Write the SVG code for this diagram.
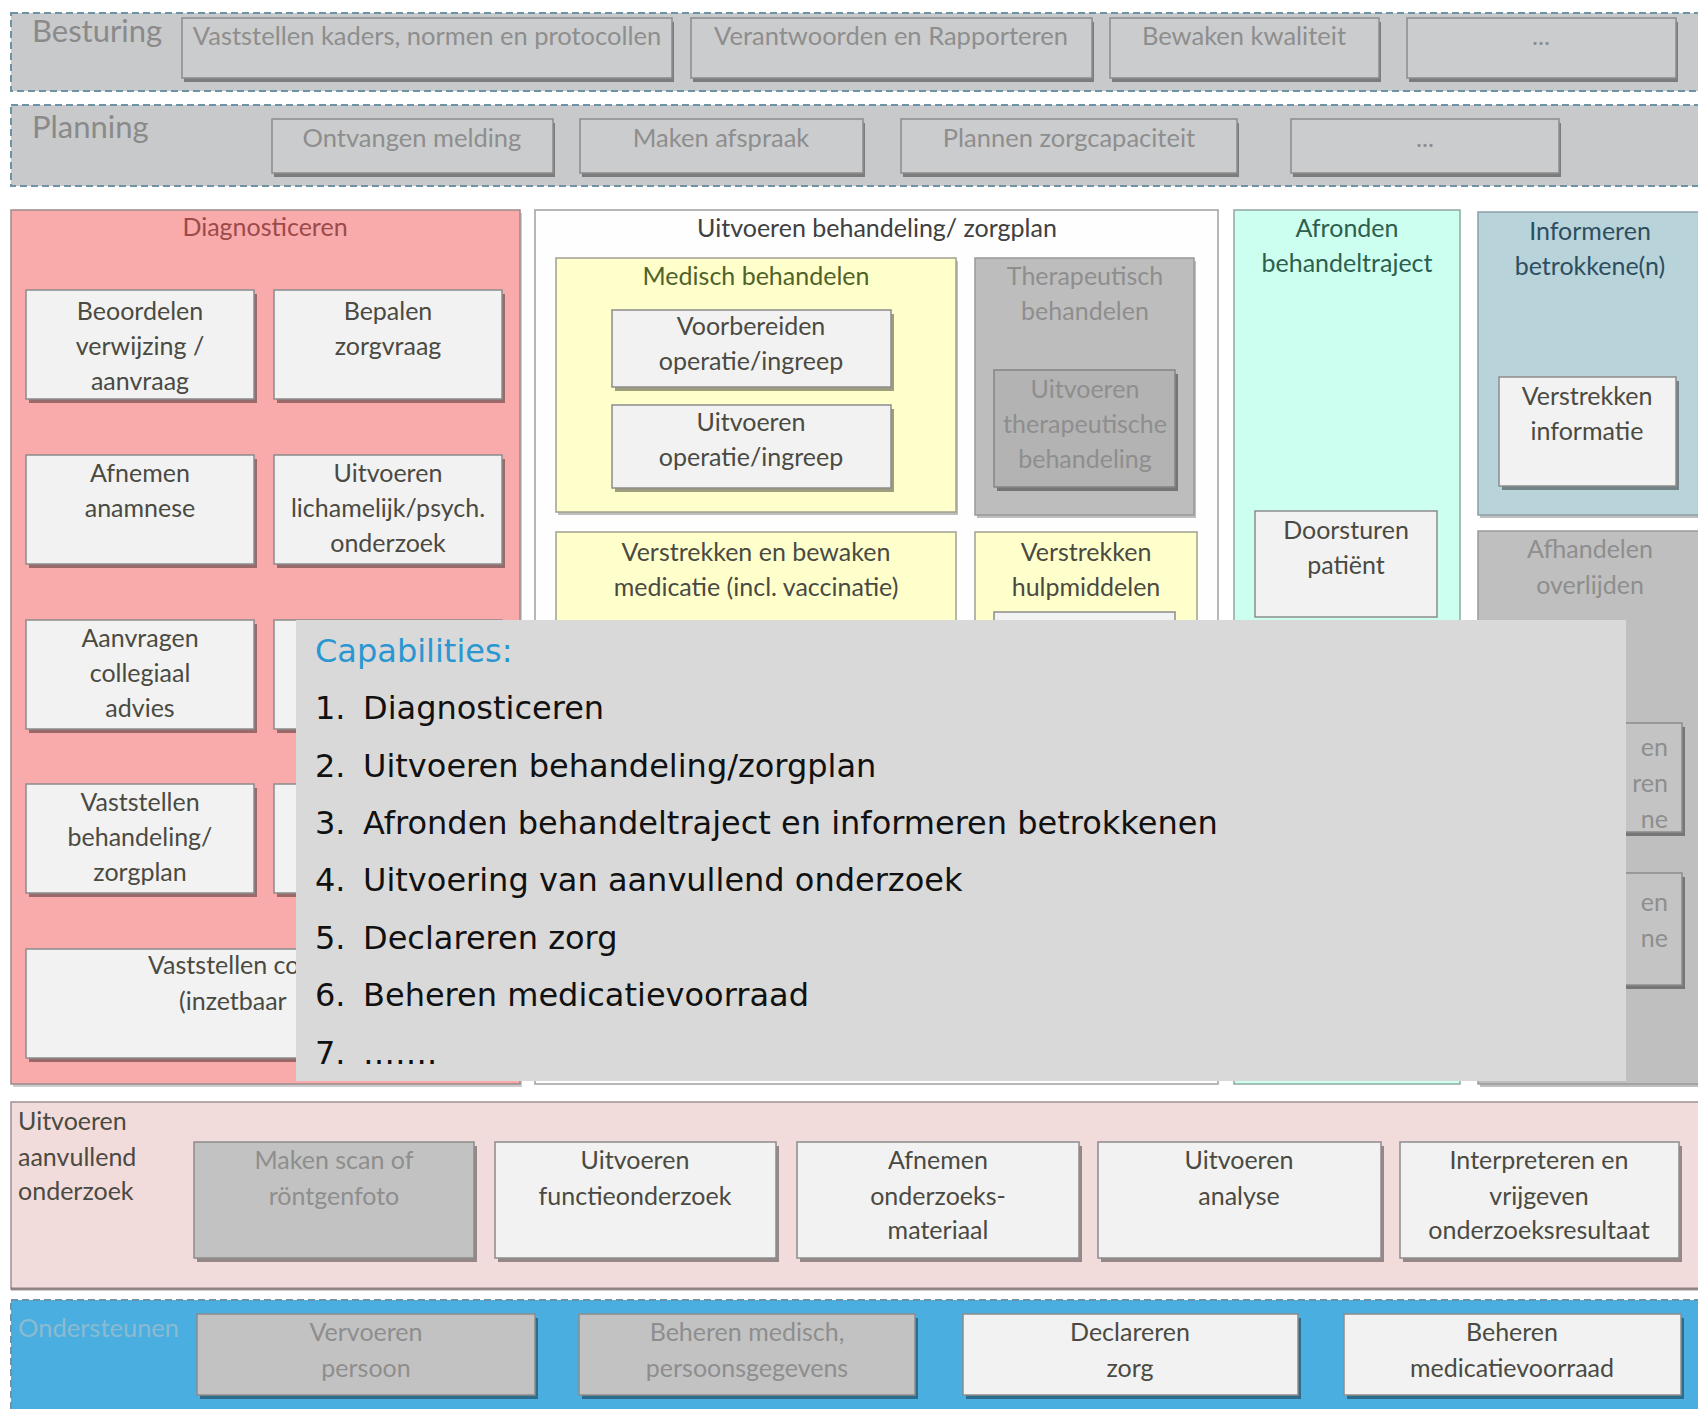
<svg xmlns="http://www.w3.org/2000/svg" width="1698" height="1409" viewBox="0 0 1698 1409">
<style>
text{font-family:Lato,"Liberation Sans",sans-serif;}
.t{font-size:25px;fill:#4a4a42;text-anchor:middle}
.f{font-size:25px;fill:#8e8e8e;text-anchor:middle}
.fs{font-size:25.5px;fill:#8e8e8e;text-anchor:middle}
.lbl{font-size:31px;fill:#8a8a8a}
.box{fill:#f2f2f2;stroke:#8c8c8c;stroke-width:1.5}
.gbox{fill:#c2c2c2;stroke:#8c8c8c;stroke-width:1.5}
.bbox{fill:#cbcccd;stroke:#8c8c8c;stroke-width:1.5}
.sh{fill:#000;opacity:0.38}
.dash{fill:none;stroke:#6f93a6;stroke-width:2;stroke-dasharray:7 4}
.cap{font-family:"DejaVu Sans",Verdana,sans-serif;font-size:32px;fill:#111}
</style>
<rect width="1698" height="1409" fill="#ffffff"/>

<!-- Besturing -->
<g id="besturing">
<rect x="11" y="13" width="1700" height="78" fill="#c8c9ca"/>
<rect class="dash" x="11" y="13" width="1700" height="78"/>
<text class="lbl" x="32" y="42">Besturing</text>
</g>
<g id="b-kaders"><rect class="sh" x="184" y="22" width="490" height="60"/><rect class="bbox" x="182" y="18" width="490" height="60"/><text class="fs" x="427" y="45">Vaststellen kaders, normen en protocollen</text></g>
<g id="b-verantwoorden"><rect class="sh" x="693" y="22" width="401" height="60"/><rect class="bbox" x="691" y="18" width="401" height="60"/><text class="fs" x="891" y="45">Verantwoorden en Rapporteren</text></g>
<g id="b-kwaliteit"><rect class="sh" x="1112" y="22" width="269" height="60"/><rect class="bbox" x="1110" y="18" width="269" height="60"/><text class="fs" x="1244" y="45">Bewaken kwaliteit</text></g>
<g id="b-more"><rect class="sh" x="1409" y="22" width="269" height="60"/><rect class="bbox" x="1407" y="18" width="269" height="60"/><text class="fs" x="1541" y="45">...</text></g>

<!-- Planning -->
<g id="planning">
<rect x="11" y="105" width="1700" height="81" fill="#c8c9ca"/>
<rect class="dash" x="11" y="105" width="1700" height="81"/>
<text class="lbl" x="32" y="138">Planning</text>
</g>
<g id="p-melding"><rect class="sh" x="274" y="123" width="281" height="54"/><rect class="bbox" x="272" y="119" width="281" height="54"/><text class="fs" x="412" y="147">Ontvangen melding</text></g>
<g id="p-afspraak"><rect class="sh" x="582" y="123" width="283" height="54"/><rect class="bbox" x="580" y="119" width="283" height="54"/><text class="fs" x="721" y="147">Maken afspraak</text></g>
<g id="p-capaciteit"><rect class="sh" x="903" y="123" width="336" height="54"/><rect class="bbox" x="901" y="119" width="336" height="54"/><text class="fs" x="1069" y="147">Plannen zorgcapaciteit</text></g>
<g id="p-more"><rect class="sh" x="1293" y="123" width="268" height="54"/><rect class="bbox" x="1291" y="119" width="268" height="54"/><text class="fs" x="1425" y="147">...</text></g>

<!-- Diagnosticeren -->
<g id="diagnosticeren">
<rect x="13" y="213" width="509" height="874" fill="#000" opacity="0.2"/>
<rect x="11" y="210" width="509" height="874" fill="#f9aaaa" stroke="#9a8a8a" stroke-width="1.5"/>
<text x="265" y="236" font-size="25" fill="#9c4a4a" text-anchor="middle">Diagnosticeren</text>
</g>
<g id="d-beoordelen"><rect class="sh" x="29" y="294" width="228" height="109"/><rect class="box" x="26" y="290" width="228" height="109"/><text class="t" x="140" y="320">Beoordelen</text><text class="t" x="140" y="355">verwijzing /</text><text class="t" x="140" y="390">aanvraag</text></g>
<g id="d-zorgvraag"><rect class="sh" x="277" y="294" width="228" height="109"/><rect class="box" x="274" y="290" width="228" height="109"/><text class="t" x="388" y="320">Bepalen</text><text class="t" x="388" y="355">zorgvraag</text></g>
<g id="d-anamnese"><rect class="sh" x="29" y="459" width="228" height="109"/><rect class="box" x="26" y="455" width="228" height="109"/><text class="t" x="140" y="482">Afnemen</text><text class="t" x="140" y="517">anamnese</text></g>
<g id="d-lichamelijk"><rect class="sh" x="277" y="459" width="228" height="109"/><rect class="box" x="274" y="455" width="228" height="109"/><text class="t" x="388" y="482">Uitvoeren</text><text class="t" x="388" y="517">lichamelijk/psych.</text><text class="t" x="388" y="552">onderzoek</text></g>
<g id="d-collegiaal"><rect class="sh" x="29" y="624" width="228" height="109"/><rect class="box" x="26" y="620" width="228" height="109"/><text class="t" x="140" y="647">Aanvragen</text><text class="t" x="140" y="682">collegiaal</text><text class="t" x="140" y="717">advies</text></g>
<g id="d-hidden1"><rect class="sh" x="277" y="624" width="228" height="109"/><rect class="box" x="274" y="620" width="228" height="109"/></g>
<g id="d-vaststellen"><rect class="sh" x="29" y="788" width="228" height="109"/><rect class="box" x="26" y="784" width="228" height="109"/><text class="t" x="140" y="811">Vaststellen</text><text class="t" x="140" y="846">behandeling/</text><text class="t" x="140" y="881">zorgplan</text></g>
<g id="d-hidden2"><rect class="sh" x="277" y="788" width="228" height="109"/><rect class="box" x="274" y="784" width="228" height="109"/></g>
<g id="d-wide"><rect class="sh" x="29" y="953" width="476" height="109"/><rect class="box" x="26" y="949" width="476" height="109"/><text class="t" x="148" y="974" style="text-anchor:start">Vaststellen co</text><text class="t" x="179" y="1010" style="text-anchor:start">(inzetbaar</text></g>

<!-- Uitvoeren behandeling -->
<g id="uitvoeren-behandeling">
<rect x="535" y="210" width="683" height="874" fill="#fefefe" stroke="#a0a0a0" stroke-width="1.5"/>
<text x="877" y="237" font-size="25" fill="#404040" text-anchor="middle">Uitvoeren behandeling/ zorgplan</text>
</g>
<g id="medisch">
<rect x="558" y="261" width="400" height="254" fill="#000" opacity="0.25"/>
<rect x="556" y="258" width="400" height="254" fill="#ffffcc" stroke="#a0a090" stroke-width="1.5"/>
<text x="756" y="285" font-size="25" fill="#4f6228" text-anchor="middle">Medisch behandelen</text>
</g>
<g id="m-voorbereiden"><rect class="sh" x="615" y="314" width="279" height="77"/><rect class="box" x="612" y="310" width="279" height="77"/><text class="t" x="751" y="335">Voorbereiden</text><text class="t" x="751" y="370">operatie/ingreep</text></g>
<g id="m-uitvoeren"><rect class="sh" x="615" y="409" width="279" height="83"/><rect class="box" x="612" y="405" width="279" height="83"/><text class="t" x="751" y="431">Uitvoeren</text><text class="t" x="751" y="466">operatie/ingreep</text></g>
<g id="therapeutisch">
<rect x="977" y="261" width="219" height="257" fill="#000" opacity="0.25"/>
<rect x="975" y="258" width="219" height="257" fill="#bdbdbd" stroke="#999999" stroke-width="1.5"/>
<text class="f" x="1085" y="285">Therapeutisch</text><text class="f" x="1085" y="320">behandelen</text>
</g>
<g id="t-uitvoeren"><rect class="sh" x="997" y="374" width="181" height="117"/><rect x="994" y="370" width="181" height="117" fill="#b3b3b3" stroke="#858585" stroke-width="1.5"/><text class="f" x="1085" y="398">Uitvoeren</text><text class="f" x="1085" y="433">therapeutische</text><text class="f" x="1085" y="468">behandeling</text></g>
<g id="medicatie">
<rect x="556" y="532" width="400" height="200" fill="#ffffcc" stroke="#a0a090" stroke-width="1.5"/>
<text class="t" x="756" y="561">Verstrekken en bewaken</text><text class="t" x="756" y="596">medicatie (incl. vaccinatie)</text>
</g>
<g id="hulpmiddelen">
<rect x="975" y="532" width="222" height="200" fill="#ffffcc" stroke="#a0a090" stroke-width="1.5"/>
<text class="t" x="1086" y="561">Verstrekken</text><text class="t" x="1086" y="596">hulpmiddelen</text>
<rect class="box" x="994" y="612" width="181" height="100"/>
</g>

<!-- Afronden -->
<g id="afronden">
<rect x="1234" y="210" width="226" height="874" fill="#ccfff0" stroke="#90a8a0" stroke-width="1.5"/>
<text x="1347" y="237" font-size="25" fill="#2e5e4e" text-anchor="middle">Afronden</text>
<text x="1347" y="272" font-size="25" fill="#2e5e4e" text-anchor="middle">behandeltraject</text>
</g>
<g id="doorsturen"><rect class="box" x="1255" y="511" width="182" height="106"/><text class="t" x="1346" y="539">Doorsturen</text><text class="t" x="1346" y="574">patiënt</text></g>

<!-- Informeren -->
<g id="informeren">
<rect x="1480" y="215" width="220" height="303" fill="#000" opacity="0.25"/>
<rect x="1478" y="212" width="222" height="303" fill="#b9d3da" stroke="#8aa0a8" stroke-width="1.5"/>
<text x="1590" y="240" font-size="25" fill="#2d4e5e" text-anchor="middle">Informeren</text>
<text x="1590" y="275" font-size="25" fill="#2d4e5e" text-anchor="middle">betrokkene(n)</text>
</g>
<g id="verstrekken-informatie"><rect class="sh" x="1502" y="381" width="177" height="109"/><rect class="box" x="1499" y="377" width="177" height="109"/><text class="t" x="1587" y="405">Verstrekken</text><text class="t" x="1587" y="440">informatie</text></g>

<!-- Afhandelen overlijden -->
<g id="overlijden">
<rect x="1480" y="534" width="220" height="553" fill="#000" opacity="0.25"/>
<rect x="1478" y="531" width="222" height="553" fill="#bfbfbf" stroke="#9a9a9a" stroke-width="1.5"/>
<text class="f" x="1590" y="558">Afhandelen</text><text class="f" x="1590" y="594">overlijden</text>
</g>
<g id="o-box1"><rect class="sh" x="1503" y="727" width="182" height="109"/><rect x="1500" y="723" width="182" height="109" fill="#c4c4c4" stroke="#8c8c8c" stroke-width="1.5"/><text class="f" x="1668" y="756" style="text-anchor:end">en</text><text class="f" x="1668" y="792" style="text-anchor:end">ren</text><text class="f" x="1668" y="828" style="text-anchor:end">ne</text></g>
<g id="o-box2"><rect class="sh" x="1503" y="877" width="182" height="112"/><rect x="1500" y="873" width="182" height="112" fill="#c4c4c4" stroke="#8c8c8c" stroke-width="1.5"/><text class="f" x="1668" y="911" style="text-anchor:end">en</text><text class="f" x="1668" y="947" style="text-anchor:end">ne</text></g>

<!-- Uitvoeren aanvullend onderzoek -->
<g id="aanvullend">
<rect x="11" y="1102" width="1700" height="187" fill="#f2dcdb" stroke="#a09090" stroke-width="1.5"/>
<rect x="11" y="1287" width="1700" height="4" fill="#000" opacity="0.2"/>
<text font-size="25" fill="#4a4a42" x="18" y="1130">Uitvoeren</text>
<text font-size="25" fill="#4a4a42" x="18" y="1166">aanvullend</text>
<text font-size="25" fill="#4a4a42" x="18" y="1200">onderzoek</text>
</g>
<g id="a-scan"><rect class="sh" x="197" y="1146" width="280" height="116"/><rect class="gbox" x="194" y="1142" width="280" height="116"/><text class="f" x="334" y="1169">Maken scan of</text><text class="f" x="334" y="1205">röntgenfoto</text></g>
<g id="a-functie"><rect class="sh" x="498" y="1146" width="281" height="116"/><rect class="box" x="495" y="1142" width="281" height="116"/><text class="t" x="635" y="1169">Uitvoeren</text><text class="t" x="635" y="1205">functieonderzoek</text></g>
<g id="a-materiaal"><rect class="sh" x="800" y="1146" width="282" height="116"/><rect class="box" x="797" y="1142" width="282" height="116"/><text class="t" x="938" y="1169">Afnemen</text><text class="t" x="938" y="1205">onderzoeks-</text><text class="t" x="938" y="1239">materiaal</text></g>
<g id="a-analyse"><rect class="sh" x="1101" y="1146" width="283" height="116"/><rect class="box" x="1098" y="1142" width="283" height="116"/><text class="t" x="1239" y="1169">Uitvoeren</text><text class="t" x="1239" y="1205">analyse</text></g>
<g id="a-interpreteren"><rect class="sh" x="1403" y="1146" width="279" height="116"/><rect class="box" x="1400" y="1142" width="279" height="116"/><text class="t" x="1539" y="1169">Interpreteren en</text><text class="t" x="1539" y="1205">vrijgeven</text><text class="t" x="1539" y="1239">onderzoeksresultaat</text></g>

<!-- Ondersteunen -->
<g id="ondersteunen">
<rect x="11" y="1300" width="1700" height="120" fill="#4aaee0"/>
<rect class="dash" x="11" y="1300" width="1700" height="120"/>
<text font-size="25.5" fill="#8cbad0" x="18" y="1337">Ondersteunen</text>
</g>
<g id="o-vervoeren"><rect class="sh" x="200" y="1318" width="338" height="81"/><rect class="gbox" x="197" y="1314" width="338" height="81"/><text class="f" x="366" y="1341">Vervoeren</text><text class="f" x="366" y="1377">persoon</text></g>
<g id="o-gegevens"><rect class="sh" x="582" y="1318" width="336" height="81"/><rect class="gbox" x="579" y="1314" width="336" height="81"/><text class="f" x="747" y="1341">Beheren medisch,</text><text class="f" x="747" y="1377">persoonsgegevens</text></g>
<g id="o-declareren"><rect class="sh" x="966" y="1318" width="335" height="81"/><rect class="box" x="963" y="1314" width="335" height="81"/><text class="t" x="1130" y="1341">Declareren</text><text class="t" x="1130" y="1377">zorg</text></g>
<g id="o-medicatievoorraad"><rect class="sh" x="1347" y="1318" width="337" height="81"/><rect class="box" x="1344" y="1314" width="337" height="81"/><text class="t" x="1512" y="1341">Beheren</text><text class="t" x="1512" y="1377">medicatievoorraad</text></g>

<g id="connectors"></g>

<!-- Capabilities overlay -->
<g id="capabilities">
<rect x="296" y="620" width="1330" height="461" fill="#d9d9d9"/>
<text class="cap" x="315" y="662" style="fill:#2a97d3">Capabilities:</text>
<text class="cap" x="315" y="719">1.</text><text class="cap" x="363" y="719">Diagnosticeren</text>
<text class="cap" x="315" y="777">2.</text><text class="cap" x="363" y="777">Uitvoeren behandeling/zorgplan</text>
<text class="cap" x="315" y="834">3.</text><text class="cap" x="363" y="834">Afronden behandeltraject en informeren betrokkenen</text>
<text class="cap" x="315" y="891">4.</text><text class="cap" x="363" y="891">Uitvoering van aanvullend onderzoek</text>
<text class="cap" x="315" y="949">5.</text><text class="cap" x="363" y="949">Declareren zorg</text>
<text class="cap" x="315" y="1006">6.</text><text class="cap" x="363" y="1006">Beheren medicatievoorraad</text>
<text class="cap" x="315" y="1064">7.</text><text class="cap" x="363" y="1064">…….</text>
</g>
</svg>
